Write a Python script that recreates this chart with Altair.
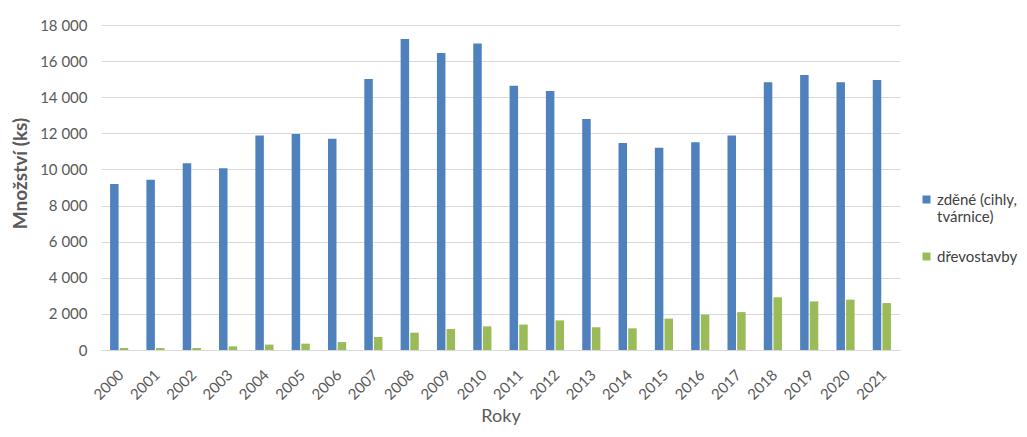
import altair as alt
import pandas as pd

years = ["2000", "2001", "2002", "2003", "2004", "2005", "2006", "2007", "2008", "2009", "2010",
         "2011", "2012", "2013", "2014", "2015", "2016", "2017", "2018", "2019", "2020", "2021"]
zdene = [9200, 9430, 10350, 10070, 11880, 11970, 11700, 15010, 17230, 16450, 16970,
         14640, 14350, 12800, 11470, 11200, 11510, 11880, 14830, 15230, 14830, 14960]
drevostavby = [110, 110, 110, 200, 300, 350, 440, 720, 960, 1160, 1310,
               1410, 1640, 1260, 1200, 1740, 1960, 2100, 2920, 2690, 2790, 2600]
series = ["zděné (cihly, tvárnice)", "dřevostavby"]
colors = ["#4F81BD", "#9BBB59"]
y_ticks = [0, 2000, 4000, 6000, 8000, 10000, 12000, 14000, 16000, 18000]

rows = []
for i, y in enumerate(years):
    rows.append({"Rok": y, "Řada": series[0], "Hodnota": zdene[i]})
    rows.append({"Rok": y, "Řada": series[1], "Hodnota": drevostavby[i]})
df = pd.DataFrame(rows)

FONT = "Lato"
GRAY = "#595959"

chart = alt.Chart(df).mark_bar().encode(
    x=alt.X("Rok:N", sort=years, title="Roky",
            scale=alt.Scale(paddingInner=0.5, paddingOuter=0.25),
            axis=alt.Axis(labelAngle=-45, labelAlign="right", labelBaseline="middle",
                          labelFontSize=15, labelColor=GRAY, labelFont=FONT, labelPadding=22,
                          labelOffset=2, ticks=False, domainColor="#d9d9d9", domainWidth=1,
                          titleFontSize=18, titleFont=FONT, titleColor=GRAY,
                          titleFontWeight="normal", titlePadding=5)),
    xOffset=alt.XOffset("Řada:N", sort=series, scale=alt.Scale(paddingInner=0.12)),
    y=alt.Y("Hodnota:Q", title="Množství (ks)",
            scale=alt.Scale(domain=[0, 18000], nice=False),
            axis=alt.Axis(values=y_ticks, format=",d",
                          labelExpr="replace(datum.label, ',', ' ')",
                          labelFontSize=15, labelColor=GRAY, labelFont=FONT, labelPadding=14,
                          ticks=False, domain=False, gridColor="#d9d9d9", gridWidth=1,
                          titleFontSize=19, titleFont=FONT, titleColor=GRAY,
                          titleFontWeight="bold", titlePadding=9, titleY=148)),
    color=alt.Color("Řada:N", sort=series,
                    scale=alt.Scale(domain=series, range=colors),
                    legend=alt.Legend(title=None, orient="none", legendX=818, legendY=167,
                                      padding=0, symbolType="square", symbolSize=64,
                                      symbolStrokeWidth=0, labelOffset=3,
                                      labelFontSize=15, labelFont=FONT, labelColor="#404040",
                                      labelLimit=300, rowPadding=24,
                                      labelExpr="datum.label == 'zděné (cihly, tvárnice)' ? ['zděné (cihly,', 'tvárnice)'] : datum.label")),
).properties(
    width=799, height=325,
    autosize=alt.AutoSizeParams(type="none"),
    padding={"left": 93, "top": 17, "right": 119, "bottom": 79},
).configure_view(stroke=None).configure_legend(labelFontSize=15, labelFont=FONT)

chart.save("out.html", embed_options={"renderer": "svg", "actions": False})
